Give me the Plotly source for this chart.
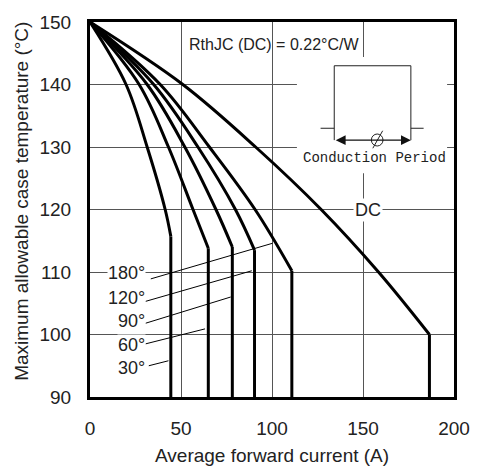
import plotly.graph_objects as go

# ---- data ----
series_names = ["30°", "60°", "90°", "120°", "180°", "DC"]

current_30 = [0, 19.8, 31.4, 41.3, 44.4]
temp_30 = [150, 140, 130, 120, 115.7]

current_60 = [0, 27.0, 43.1, 56.6, 65.0]
temp_60 = [150, 140, 130, 120, 113.8]

current_90 = [0, 31.4, 52.1, 69.2, 78.2]
temp_90 = [150, 140, 130, 120, 114.0]

current_120 = [0, 35.0, 59.3, 79.9, 90.4]
temp_120 = [150, 140, 130, 120, 113.5]

current_180 = [0, 38.6, 65.6, 90.7, 110.9]
temp_180 = [150, 140, 130, 120, 110.2]

current_dc = [0, 51.0, 91.0, 127.0, 158.5, 186.5]
temp_dc = [150, 140, 130, 120, 110, 100]

x_ticks = [0, 50, 100, 150, 200]
y_ticks = [90, 100, 110, 120, 130, 140, 150]
y_floor = 90

curves = [
    (current_30, temp_30),
    (current_60, temp_60),
    (current_90, temp_90),
    (current_120, temp_120),
    (current_180, temp_180),
    (current_dc, temp_dc),
]

FONT = "Liberation Sans, Arial, sans-serif"
TXT = "#222"
fig = go.Figure()

for name, (xs, ys) in zip(series_names, curves):
    fig.add_trace(go.Scatter(x=xs, y=ys, mode="lines", name=name,
                             line=dict(color="black", width=3, shape="spline", smoothing=1.0),
                             showlegend=False, hoverinfo="skip"))
    fig.add_trace(go.Scatter(x=[xs[-1], xs[-1]], y=[ys[-1], y_floor], mode="lines",
                             line=dict(color="black", width=3), showlegend=False, hoverinfo="skip"))

shapes = []
# white area behind the inset waveform
shapes.append(dict(type="rect", xref="x", yref="y", x0=113.7, x1=196.2, y0=125.8, y1=144.4,
                   fillcolor="white", line=dict(width=0), layer="between"))
ins = dict(color="#222", width=1)
for (x0, y0, x1, y1) in [(126.7, 133.0, 134.2, 133.0), (134.2, 131.1, 134.2, 143.0),
                         (134.2, 143.0, 176.3, 143.0), (176.3, 143.0, 176.3, 131.1),
                         (176.3, 133.0, 183.3, 133.0)]:
    shapes.append(dict(type="line", xref="x", yref="y", x0=x0, y0=y0, x1=x1, y1=y1, line=ins))
# diameter symbol
shapes.append(dict(type="circle", xref="x", yref="y", x0=154.6, x1=161.0, y0=130.16, y1=132.08,
                   line=ins, fillcolor="rgba(0,0,0,0)"))
shapes.append(dict(type="line", xref="x", yref="y", x0=155.4, y0=129.8, x1=160.8, y1=132.6, line=ins))

# leader lines for the angle labels
lead = dict(color="black", width=1)
for (x0, y0, x1, y1) in [(33.4, 108.9, 100.3, 114.6), (30.5, 105.3, 88.9, 110.2),
                         (30.5, 101.8, 77.3, 106.0), (30.5, 98.5, 63.2, 100.9),
                         (32.3, 95.0, 43.1, 95.8)]:
    shapes.append(dict(type="line", xref="x", yref="y", x0=x0, y0=y0, x1=x1, y1=y1, line=lead))

annotations = []
label_y = [94.6, 98.3, 102.2, 105.9, 109.8]
for name, yy in zip(series_names[:5], label_y):
    annotations.append(dict(x=30.9, y=yy, xref="x", yref="y", text=name, showarrow=False,
                            xanchor="right", yanchor="middle", bgcolor="white", borderpad=0,
                            font=dict(family=FONT, size=18, color=TXT)))
annotations.append(dict(x=152.6, y=120.0, xref="x", yref="y", text="DC", showarrow=False,
                        bgcolor="white", borderpad=1, font=dict(family=FONT, size=18, color=TXT)))
annotations.append(dict(x=101.1, y=146.4, xref="x", yref="y", text="RthJC (DC) = 0.22°C/W",
                        showarrow=False, font=dict(family=FONT, size=16, color=TXT)))
annotations.append(dict(x=176.3, y=131.1, ax=134.2, ay=131.1, xref="x", yref="y", axref="x", ayref="y",
                        text="", showarrow=True, arrowhead=2, arrowsize=1.8, arrowwidth=1.1,
                        arrowside="end+start", arrowcolor="#111"))
annotations.append(dict(x=156.4, y=128.24, xref="x", yref="y", text="Conduction Period", showarrow=False,
                        font=dict(family="Liberation Mono, DejaVu Sans Mono, monospace", size=14, color=TXT)))
# axis titles
annotations.append(dict(x=0.5, y=-0.157, xref="paper", yref="paper", text="Average forward current (A)",
                        showarrow=False, yanchor="middle", font=dict(family=FONT, size=19, color=TXT)))
annotations.append(dict(x=-0.189, y=0.521, xref="paper", yref="paper",
                        text="Maximum allowable case temperature (°C)", textangle=-90,
                        showarrow=False, xanchor="center", font=dict(family=FONT, size=19, color=TXT)))

fig.update_layout(
    width=482, height=466, autosize=False,
    margin=dict(l=90, r=21, t=22, b=69),
    paper_bgcolor="white", plot_bgcolor="white",
    shapes=shapes, annotations=annotations, showlegend=False,
    font=dict(family=FONT, size=19, color=TXT),
)
fig.update_xaxes(range=[0, 200], tickvals=x_ticks, showgrid=True, gridcolor="#555", gridwidth=1,
                 zeroline=False, showline=True, linecolor="black", linewidth=3, mirror=True,
                 ticks="", ticklabelstandoff=12, tickfont=dict(family=FONT, size=19, color=TXT))
fig.update_yaxes(range=[90, 150], tickvals=y_ticks, showgrid=True, gridcolor="#555", gridwidth=1,
                 zeroline=False, showline=True, linecolor="black", linewidth=3, mirror=True,
                 ticks="", ticklabelstandoff=12, tickfont=dict(family=FONT, size=19, color=TXT))

# remove the page's default body margin and scrollbars so the figure sits at the window origin
page_fix = ("document.documentElement.style.margin='0';document.body.style.margin='0';"
            "document.documentElement.style.overflow='hidden';document.body.style.overflow='hidden';"
            "var gd=document.getElementById('{plot_id}');gd.style.width='482px';gd.style.height='466px';"
            "Plotly.relayout(gd,{width:482,height:466});")
fig.write_html("out.html", post_script=page_fix,
               config={"displayModeBar": False, "responsive": False})
